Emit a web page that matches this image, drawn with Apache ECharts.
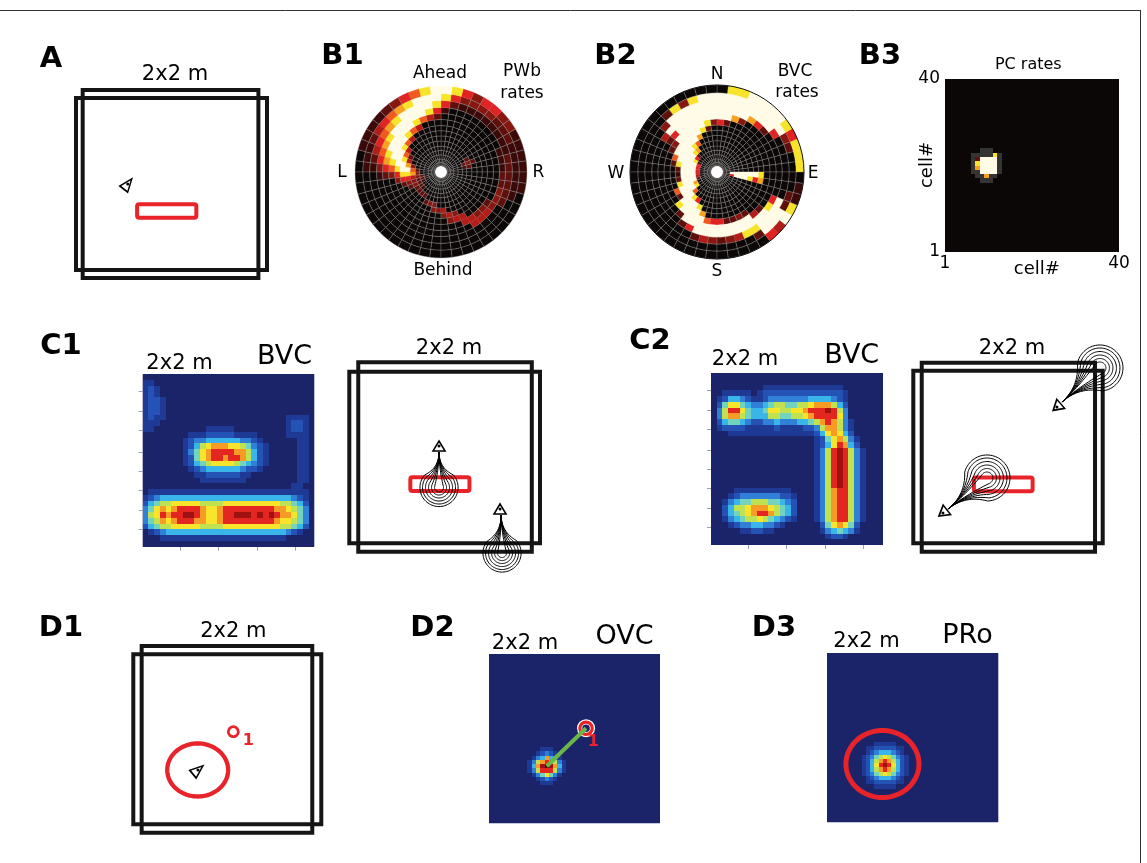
<!DOCTYPE html>
<html><head><meta charset="utf-8">
<script src="https://cdn.jsdelivr.net/npm/echarts@6/dist/echarts.min.js"></script>
<style>html,body{margin:0;padding:0;background:#fff}#c{width:1147px;height:863px}</style>
</head><body><div id="c"></div>
<script>
// ---------------- DATA ----------------
const LEVELS = '0123456789abg';
// polar ring edges (fraction of radius), 15 rings
const ringEdges = [0.07,0.11,0.15,0.2,0.25,0.3,0.36,0.42,0.48,0.54,0.61,0.68,0.75,0.83,0.91,1.0];
// B1 PWb rates: ring 0 (inner) .. 14 (outer); 48 angular bins from R (0 deg) counter-clockwise
const pwbRings = [
 "00000000 00000000 00000000 00000000 00000000 00000000",
 "00000000 00000000 00000000 00000000 00000000 00000000",
 "00000000 00000000 00000000 00100000 00000000 00000000",
 "00000000 00000000 00000000 02210000 00000000 00000000",
 "01200000 00000000 00000002 33222100 00000000 00000000",
 "02320000 00000000 00000036 74332222 00000000 00000000",
 "00200000 00000000 00002479 85320000 23300000 00000000",
 "00000000 00000000 00046899 85200000 00334000 00000000",
 "00000000 00000000 04689998 53000000 00003430 00000000",
 "00000000 00000004 68999986 30000000 00000344 00000000",
 "00000000 00002468 99999875 20000000 00000004 43320000",
 "11100000 00015899 99987653 10000000 00000000 44433322",
 "22111111 11258999 98765421 00000000 00000000 00002222",
 "11122233 33589998 76542111 00000000 00000000 00000111",
 "11113355 35899865 32111100 00000000 00000000 00000011"
];
// B2 BVC rates: 48 bins from E counter-clockwise
const bvcRings = [
 "00000000 00000000 00000000 00000000 00000000 00000000",
 "00000000 00000000 00000000 00000000 00000000 00000000",
 "00000000 00000000 00000000 00000000 00000000 00000059",
 "00000000 00000000 00001555 54200000 00000000 00000099",
 "00000000 00000000 00258999 99978000 00000000 00000099",
 "00000000 00000000 07899999 99999600 00000000 00000099",
 "00000000 00000000 68999999 99999985 00000000 00000089",
 "00000000 00000007 99999982 12899999 80000000 00000059",
 "00000000 00000289 99999620 00062999 97000000 00000078",
 "00000000 00253899 99932000 00000899 99655223 20000000",
 "00000000 37999999 99520000 00000029 99999999 94200000",
 "00000257 99999999 99940000 00000002 59999999 99985000",
 "00005999 99999999 99300000 00000000 02432348 89999000",
 "00239999 99999983 82000000 00000000 00000000 29992200",
 "88858999 98800000 00000000 00000000 00000000 05498110"
];
// B3 PC rates (40x40), blob window; origin = [left col, top row]
const pcBlob = ["00ggg00","ggggg8g","g29999g","g89999g","g79999g","gg9999g","0gg7gg0","00ggg00"];
const pcBlobAt = [6, 23];
const pcTickLabels = ['1', '40'];
// C1 BVC rate map (30x30, top row first)
const c1Rows = [
 "000000000000000000000000000000",
 "11 0000000000000000000000000000",
 "121 000000000000000000000000000",
 "121 000000000000000000000000000",
 "1221 00000000000000000000000000",
 "1221 00000000000000000000000000",
 "1221 00000000000000000000000000",
 "1211 000000000000000000000 1111 0",
 "1110 000000000000000000000 1221 0",
 "11 000000000 11111 000000000 1221 0",
 "00000000 111 22222 1111 00000 1111 0",
 "0000000 12334444443321 000000 11 0",
 "0000000 124678887765321 00000 11 0",
 "0000000 135789999886421 00000 11 0",
 "0000000 125789989986421 00000 11 0",
 "0000000 124567777654321 00000 11 0",
 "0000000 012344444432210 00000 11 0",
 "0000000 001122222211000 00000 11 0",
 "0000000 000111111110000 00000 11 0",
 "0000000000000000000000000 0110",
 "0 1111111111111111111111111111 0",
 "123 44444444444444444444444 3210",
 "245667777766667777777777665420",
 "357878999987789999999998876530",
 "3679899aa9877899aaa9a9a9887530",
 "356878999887789999999998776530",
 "245667777766667777777777665420",
 "0123 444444444444444444444 32100",
 "000 1111111111111111111111 00000",
 "000000000000000000000000000000"
];
// C2 BVC rate map (30x30, top row first)
const c2Rows = [
 "000000000000000000000000000000",
 "000000000000000000000000000000",
 "000000000 11111111111111 0000000",
 "00 11111 01 22222222222222 1 000000",
 "0 12443211233333334444321 000000",
 "0 25775433456655667888642 000000",
 "0 3699754457766778999a963 000000",
 "0 36886544466556678999973 000000",
 "0 24554322334333445689863 100000",
 "0 12222111112111122368863 100000",
 "000 111111111111111 2478742 00000",
 "000000000000000000 1 2578631 0000",
 "000000000000000000 1 2479842 0000",
 "000000000000000000 1369a9631 000",
 "000000000000000000 1369a9631 000",
 "000000000000000000 1369a9631 000",
 "000000000000000000 1369a9631 000",
 "000000000000000000 1369a9631 000",
 "000000000000000000 1369a9631 000",
 "000000000000000000 1369a9631 000",
 "0000 1111111111 0000 136899631 000",
 "000 123333333221 000 136899631 000",
 "00 1345566655432 000 136899631 000",
 "00 2466788876542 000 136899631 000",
 "00 2456789986542 000 136899631 000",
 "00 1345667654321 000 136899631 000",
 "000 1233443321 000000 2578752 0000",
 "00000 112211 00000000 1345431 0000",
 "00000000000000000000 1221 000000",
 "000000000000000000000000000000"
];
const bvcTicksX = [6.5, 13.2, 20.0, 26.6];
const bvcTicksY = [3.1, 6.4, 9.9, 13.2, 16.5, 20.3, 23.6, 27.0];
// D2 OVC and D3 PRo rate maps (40x40), blob windows
const ovcBlob = ["000111000","001232100","013484310","136898631","148aba841","136999631","013575310","001232100","000111000"];
const ovcBlobAt = [9, 17];
const proBlob = [
 "0000000000000","0000111110000","0011222221100","0012344432100","0123567653210","0124689864210",
 "012479a974210","0124689864210","0123567653210","0012344432100","0011222221100","0000111110000","0000000000000"];
const proBlobAt = [7, 19];
const ovcLink = [[13.5, 13.5], [22.7, 22.5]];
const ovcObject = [22.7, 22.5];
const proField = [12.9, 13.8, 8.54, 7.93];
// environments (metres, 2x2 m box drawn twice)
const wallsA  = [[0.07, 0, 1.91, 2], [0, 0.085, 2, 1.915]];
const wallsC1 = [[0.094, 0, 1.914, 2], [0, 0.089, 2, 1.90]];
const wallsC2 = [[0.089, 0, 1.919, 2], [0, 0.089, 2, 1.915]];
const wallsD1 = [[0.089, 0, 1.904, 2], [0, 0.090, 2, 1.911]];
const obstacle = [0.64, 0.64, 1.26, 0.785];
// agents: [x, y, heading deg]
const agentA = [[0.542, 1.0, 52]];
const agentsC1 = [[0.941, 1.116, 90], [1.581, 0.451, 90]];
const agentsC2 = [[0.313, 0.41, 218], [1.517, 1.53, 221]];
const agentD1 = [[0.688, 0.672, 40]];
// receptive-field drops: [tipX, tipY, centreX, centreY]
const dropsC1 = [[0.941, 1.053, 0.941, 0.678], [1.591, 0.387, 1.602, -0.014]];
const dropRadiiC1 = [0.047, 0.079, 0.11, 0.142, 0.173, 0.2];
const dropsC2 = [[0.366, 0.452, 0.778, 0.78], [1.570, 1.584, 1.971, 1.944]];
const dropRadiiC2 = [0.063, 0.1, 0.137, 0.174, 0.211, 0.243];
const d1Field = [0.685, 0.672, 0.324, 0.284];
const d1Object = [1.064, 1.082];

// ---------------- STYLE ----------------
const hotColors = ['#0c0707','#3b0a08','#5f100c','#87170f','#b21d18','#e02424','#ef5b1e','#f6a11f','#f7e42a','#fffbe6','#ffffff','#ffffff','#343434'];
const jetColors = ['#1b2468','#1f3a95','#2453b5','#2f80d6','#3ab5ea','#72d4bd','#c0e252','#f8e52b','#f59b26','#e3261f','#a01210','#4a0606','#1b2468'];
const RED = '#e8242a';
const FONT = 'DejaVu Sans';

// ---------------- BUILD ----------------
const clean = s => s.replace(/\s+/g, '');
function rowsToCells(rows, n) {
  const out = [];
  rows.map(clean).forEach((s, r) => {
    for (let c = 0; c < n; c++) out.push([c, n - 1 - r, Math.max(0, LEVELS.indexOf(s[c] || '0'))]);
  });
  return out;
}
function blobToCells(blob, at, n) {
  const b = blob.map(clean), out = [];
  for (let y = 0; y < n; y++) for (let x = 0; x < n; x++) {
    const r = at[1] - y, c = x - at[0];
    const ch = (r >= 0 && r < b.length && c >= 0 && c < b[r].length) ? b[r][c] : '0';
    out.push([x, y, Math.max(0, LEVELS.indexOf(ch))]);
  }
  return out;
}
function ringsToCells(rings) {
  const out = [];
  rings.map(clean).forEach((s, i) => {
    const n = s.length;
    for (let k = 0; k < n; k++) out.push([(ringEdges[i] + ringEdges[i + 1]) / 2, (k + 0.5) * 360 / n, Math.max(0, LEVELS.indexOf(s[k])), i, k, n]);
  });
  return out;
}

const grids = [], xAxes = [], yAxes = [], series = [];
function hiddenAxis(gi, min, max) { return {type: 'value', gridIndex: gi, min, max, show: false}; }
function tickAxis(gi, max, pos, vals) {
  return {type: 'value', gridIndex: gi, min: 0, max, position: pos,
    axisLine: {show: false}, axisLabel: {show: false}, splitLine: {show: false},
    axisTick: {show: true, inside: true, length: 4, customValues: vals, lineStyle: {color: '#9aa0bf', width: 1}}};
}
function addGrid(box, bg) {
  const g = {left: box[0], top: box[1], width: box[2], height: box[3], containLabel: false, outerBoundsMode: 'none'};
  if (bg) Object.assign(g, {show: true, backgroundColor: bg, borderWidth: 0});
  grids.push(g);
  return grids.length - 1;
}
function envGrid(box) {
  const gi = addGrid(box);
  xAxes.push(hiddenAxis(gi, 0, 2)); yAxes.push(hiddenAxis(gi, 0, 2));
  return {x: xAxes.length - 1, y: yAxes.length - 1};
}
function heatSeries(ax, data, palette) {
  return {type: 'custom', xAxisIndex: ax.x, yAxisIndex: ax.y, data, encode: {x: 0, y: 1}, silent: true, progressive: 0,
    renderItem(params, api) {
      const x = api.value(0), y = api.value(1), lv = api.value(2);
      const a = api.coord([x, y + 1]), b = api.coord([x + 1, y]);
      const x0 = Math.round(a[0]), y0 = Math.round(a[1]), x1 = Math.round(b[0]), y1 = Math.round(b[1]);
      return {type: 'rect', shape: {x: x0, y: y0, width: x1 - x0, height: y1 - y0},
        style: {fill: palette[lv]}};
    }};
}
function rectSeries(ax, data, color, width, radius) {
  return {type: 'custom', xAxisIndex: ax.x, yAxisIndex: ax.y, data, encode: {x: [0, 2], y: [1, 3]}, silent: true,
    renderItem(params, api) {
      const a = api.coord([api.value(0), api.value(3)]), b = api.coord([api.value(2), api.value(1)]);
      return {type: 'rect', shape: {x: a[0], y: a[1], width: b[0] - a[0], height: b[1] - a[1], r: radius},
        style: {fill: 'none', stroke: color, lineWidth: width}};
    }};
}
function ellipseSeries(ax, data, color, width) {
  return {type: 'custom', xAxisIndex: ax.x, yAxisIndex: ax.y, data, encode: {x: 0, y: 1}, silent: true,
    renderItem(params, api) {
      const c = api.coord([api.value(0), api.value(1)]);
      const s = api.size([api.value(2), api.value(3)]);
      const pts = [];
      for (let i = 0; i < 96; i++) { const t = i / 96 * Math.PI * 2; pts.push([c[0] + s[0] * Math.cos(t), c[1] + s[1] * Math.sin(t)]); }
      return {type: 'polygon', shape: {points: pts}, style: {fill: 'none', stroke: color, lineWidth: width}};
    }};
}
function dropSeries(ax, drops, radii) {
  const data = [];
  drops.forEach(d => radii.forEach(r => data.push([d[0], d[1], d[2], d[3], r])));
  return {type: 'custom', xAxisIndex: ax.x, yAxisIndex: ax.y, data, encode: {x: [0, 2], y: [1, 3]}, silent: true,
    renderItem(params, api) {
      const t = api.coord([api.value(0), api.value(1)]);
      const c = api.coord([api.value(2), api.value(3)]);
      const rho = api.size([api.value(4), 0])[0];
      const dx = t[0] - c[0], dy = t[1] - c[1], d = Math.hypot(dx, dy);
      const phi = Math.atan2(dy, dx), beta = 0.85 * Math.acos(Math.min(1, rho / d));
      const k = [t[0] - dx * 0.45, t[1] - dy * 0.45];
      const pt = a => [c[0] + rho * Math.cos(a), c[1] + rho * Math.sin(a)];
      const bez = (p0, p2, s) => [(1 - s) * (1 - s) * p0[0] + 2 * (1 - s) * s * k[0] + s * s * p2[0], (1 - s) * (1 - s) * p0[1] + 2 * (1 - s) * s * k[1] + s * s * p2[1]];
      const p1 = pt(phi + beta), p2 = pt(phi + 2 * Math.PI - beta);
      const pts = [];
      for (let i = 0; i <= 16; i++) pts.push(bez(t, p1, i / 16));
      for (let i = 1; i < 60; i++) pts.push(pt(phi + beta + (2 * Math.PI - 2 * beta) * i / 60));
      for (let i = 0; i <= 16; i++) pts.push(bez(t, p2, 1 - i / 16));
      return {type: 'polyline', shape: {points: pts}, style: {fill: 'none', stroke: '#000', lineWidth: 1}};
    }};
}
function agentSeries(ax, agents, size) {
  return [{type: 'scatter', xAxisIndex: ax.x, yAxisIndex: ax.y, symbol: 'triangle', symbolSize: size, silent: true,
    itemStyle: {color: 'rgba(0,0,0,0)', borderColor: '#000', borderWidth: 1.6, opacity: 1},
    data: agents.map(a => ({value: [a[0], a[1]], symbolRotate: a[2] - 90}))},
    {type: 'scatter', xAxisIndex: ax.x, yAxisIndex: ax.y, symbol: 'circle', symbolSize: 3, silent: true,
    itemStyle: {color: '#000', opacity: 1}, data: agents.map(a => [a[0], a[1]])}];
}

// Panel A
const axA = envGrid([76, 90, 191, 188]);
series.push(rectSeries(axA, wallsA, '#151515', 4, 0), rectSeries(axA, [obstacle], RED, 4, 2), ...agentSeries(axA, agentA, [10, 13]));

// Panel B3 (PC rates)
{
  const gi = addGrid([945, 79, 174, 173], hotColors[0]);
  const lbl = {show: true, fontSize: 17, color: '#000', fontFamily: FONT, formatter: v => v === 0 ? pcTickLabels[0] : pcTickLabels[1], showMinLabel: true, showMaxLabel: true};
  xAxes.push({type: 'value', gridIndex: gi, min: 0, max: 40, interval: 40, axisLine: {show: false}, axisTick: {show: false}, splitLine: {show: false}, axisLabel: Object.assign({margin: 3}, lbl)});
  yAxes.push({type: 'value', gridIndex: gi, min: 0, max: 40, interval: 40, axisLine: {show: false}, axisTick: {show: false}, splitLine: {show: false}, axisLabel: Object.assign({margin: 5}, lbl)});
  series.push(heatSeries({x: xAxes.length - 1, y: yAxes.length - 1}, blobToCells(pcBlob, pcBlobAt, 40), hotColors));
}

// C heatmaps
function bvcHeat(box, rows) {
  const gi = addGrid(box, jetColors[0]);
  xAxes.push(tickAxis(gi, 30, 'bottom', bvcTicksX)); const xi = xAxes.length - 1;
  xAxes.push(tickAxis(gi, 30, 'top', bvcTicksX));
  yAxes.push(tickAxis(gi, 30, 'left', bvcTicksY)); const yi = yAxes.length - 1;
  yAxes.push(tickAxis(gi, 30, 'right', bvcTicksY));
  series.push(heatSeries({x: xi, y: yi}, rowsToCells(rows, 30), jetColors));
}
bvcHeat([142.7, 374.3, 171.6, 172.4], c1Rows);
bvcHeat([711, 373.3, 171.7, 171.7], c2Rows);

// C1 environment
const axC1 = envGrid([349.3, 362.3, 190.7, 189.4]);
series.push(rectSeries(axC1, wallsC1, '#151515', 4, 0), rectSeries(axC1, [obstacle], RED, 4, 2),
  dropSeries(axC1, dropsC1, dropRadiiC1), ...agentSeries(axC1, agentsC1, [12, 10]));
// C2 environment
const axC2 = envGrid([913.3, 362.7, 189.4, 189]);
series.push(rectSeries(axC2, wallsC2, '#151515', 4, 0), rectSeries(axC2, [obstacle], RED, 4, 2),
  dropSeries(axC2, dropsC2, dropRadiiC2), ...agentSeries(axC2, agentsC2, [12, 10]));
// D1 environment
const axD1 = envGrid([133.3, 646, 188, 186.7]);
series.push(rectSeries(axD1, wallsD1, '#151515', 4, 0), ellipseSeries(axD1, [d1Field], RED, 4.3),
  {type: 'scatter', xAxisIndex: axD1.x, yAxisIndex: axD1.y, symbol: 'circle', symbolSize: 10, silent: true,
   itemStyle: {color: '#fff', borderColor: RED, borderWidth: 2.8, opacity: 1}, data: [d1Object]},
  ...agentSeries(axD1, agentD1, [10, 13]));

// D2 OVC
{
  const gi = addGrid([489, 654.3, 171, 169], jetColors[0]);
  xAxes.push(hiddenAxis(gi, 0, 40)); yAxes.push(hiddenAxis(gi, 0, 40));
  const ax = {x: xAxes.length - 1, y: yAxes.length - 1};
  series.push(heatSeries(ax, blobToCells(ovcBlob, ovcBlobAt, 40), jetColors),
    {type: 'line', xAxisIndex: ax.x, yAxisIndex: ax.y, data: ovcLink, symbol: 'none', silent: true, lineStyle: {color: '#6ab648', width: 4}},
    {type: 'custom', xAxisIndex: ax.x, yAxisIndex: ax.y, data: [ovcObject], encode: {x: 0, y: 1}, silent: true,
     renderItem(params, api) {
       const c = api.coord([api.value(0), api.value(1)]);
       return {type: 'group', children: [
         {type: 'circle', shape: {cx: c[0], cy: c[1], r: 9}, style: {fill: '#ffffff'}},
         {type: 'circle', shape: {cx: c[0], cy: c[1], r: 7.8}, style: {fill: RED}},
         {type: 'circle', shape: {cx: c[0], cy: c[1], r: 4.6}, style: {fill: '#ffffff'}},
         {type: 'circle', shape: {cx: c[0], cy: c[1], r: 3.8}, style: {fill: jetColors[0]}}]};
     }});
}
// D3 PRo
{
  const gi = addGrid([827.3, 653.3, 171, 169], jetColors[0]);
  xAxes.push(hiddenAxis(gi, 0, 40)); yAxes.push(hiddenAxis(gi, 0, 40));
  const ax = {x: xAxes.length - 1, y: yAxes.length - 1};
  series.push(heatSeries(ax, blobToCells(proBlob, proBlobAt, 40), jetColors), ellipseSeries(ax, [proField], RED, 5));
}

// Polar B1 / B2
function polarSeries(pi, rings) {
  return {type: 'custom', coordinateSystem: 'polar', polarIndex: pi, data: ringsToCells(rings), encode: {radius: 0, angle: 1}, silent: true, progressive: 0,
    renderItem(params, api) {
      const i = api.value(3), k = api.value(4), n = api.value(5), lv = api.value(2);
      const a0 = k * 360 / n, a1 = (k + 1) * 360 / n;
      const c = api.coord([0, 0]);
      const pIn = api.coord([ringEdges[i], a0]);
      const pOut = api.coord([ringEdges[i + 1], a0]);
      const qOut = api.coord([ringEdges[i + 1], a1]);
      const r0 = Math.hypot(pIn[0] - c[0], pIn[1] - c[1]);
      const r = Math.hypot(pOut[0] - c[0], pOut[1] - c[1]);
      const s = Math.atan2(qOut[1] - c[1], qOut[0] - c[0]);
      let e = Math.atan2(pOut[1] - c[1], pOut[0] - c[0]);
      if (e < s) e += 2 * Math.PI;
      const dark = lv <= 3;
      return {type: 'sector', shape: {cx: c[0], cy: c[1], r0, r, startAngle: s, endAngle: e, clockwise: true},
        style: {fill: hotColors[lv], stroke: dark ? 'rgba(150,150,150,0.55)' : hotColors[lv], lineWidth: dark ? 0.6 : 0.3}};
    }};
}
series.push(polarSeries(0, pwbRings), polarSeries(1, bvcRings));

// ---------------- TEXT ----------------
function txt(text, x, y, size) {
  return {type: 'text', silent: true, z: 100, style: {text, x, y, font: `${size}px "${FONT}"`, fill: '#000', textAlign: 'center', textVerticalAlign: 'middle'}};
}
function bold(text, x, y, size, color) {
  return {type: 'text', silent: true, z: 100, style: {text, x, y, font: `bold ${size}px "${FONT}"`, fill: color || '#000', textAlign: 'center', textVerticalAlign: 'middle'}};
}
const graphics = [
  {type: 'line', silent: true, z: -10, shape: {x1: 0, y1: 10.5, x2: 1141, y2: 10.5}, style: {stroke: '#333', lineWidth: 1}},
  {type: 'line', silent: true, z: -10, shape: {x1: 1140.5, y1: 10.5, x2: 1140.5, y2: 863}, style: {stroke: '#333', lineWidth: 1}},
  bold('A', 51, 59.5, 29), bold('B1', 342.5, 56, 29), bold('B2', 615.5, 56.5, 29), bold('B3', 880, 56, 29),
  bold('C1', 61, 346, 29), bold('C2', 650, 341.5, 29), bold('D1', 61, 628.5, 29), bold('D2', 432.5, 628.5, 29), bold('D3', 774, 628.5, 29),
  txt('2x2 m', 175, 74.5, 21), txt('2x2 m', 179.5, 363.5, 21), txt('2x2 m', 449, 348.5, 21), txt('2x2 m', 745, 360, 21),
  txt('2x2 m', 1012, 348.5, 21), txt('2x2 m', 233.3, 631.7, 21), txt('2x2 m', 525, 643.5, 21), txt('2x2 m', 866.5, 642, 21),
  txt('BVC', 284.5, 357, 27), txt('BVC', 851.7, 356, 27), txt('OVC', 624.5, 637, 27), txt('PRo', 967.5, 636, 27),
  txt('Ahead', 440, 73.5, 17), txt('Behind', 443, 270.5, 17), txt('L', 342, 173, 17), txt('R', 538.5, 173, 17),
  txt('PWb', 522, 72, 17), txt('rates', 522, 93.5, 17),
  txt('N', 717, 75, 17), txt('S', 717, 271.5, 17), txt('W', 616, 173.3, 17), txt('E', 813, 173.3, 17),
  txt('BVC', 795, 71.7, 17), txt('rates', 797, 92.5, 17),
  txt('PC rates', 1028.3, 65, 16), txt('cell#', 1036.8, 269.5, 18),
  {type: 'text', silent: true, z: 100, x: 927, y: 165, rotation: Math.PI / 2, style: {text: 'cell#', x: 0, y: 0, font: `18px "${FONT}"`, fill: '#000', textAlign: 'center', textVerticalAlign: 'middle'}},
  bold('1', 248.3, 741, 16, RED), bold('1', 593.3, 741.7, 16, RED)
];

const option = {
  animation: false,
  backgroundColor: '#ffffff',
  grid: grids, xAxis: xAxes, yAxis: yAxes,
  polar: [{center: [441, 172], radius: [0, 86]}, {center: [717, 172], radius: [0, 87]}],
  angleAxis: [
    {polarIndex: 0, type: 'value', min: 0, max: 360, startAngle: 0, clockwise: false, show: false},
    {polarIndex: 1, type: 'value', min: 0, max: 360, startAngle: 0, clockwise: false, z: 10,
     axisLine: {show: true, lineStyle: {color: '#111', width: 1}}, axisTick: {show: false}, axisLabel: {show: false}, splitLine: {show: false}}
  ],
  radiusAxis: [
    {polarIndex: 0, type: 'value', min: 0, max: 1, show: false},
    {polarIndex: 1, type: 'value', min: 0, max: 1, show: false}
  ],
  series,
  graphic: graphics
};
const chart = echarts.init(document.getElementById('c'), null, {renderer: 'canvas', width: 1147, height: 863});
chart.setOption(option);
</script></body></html>
